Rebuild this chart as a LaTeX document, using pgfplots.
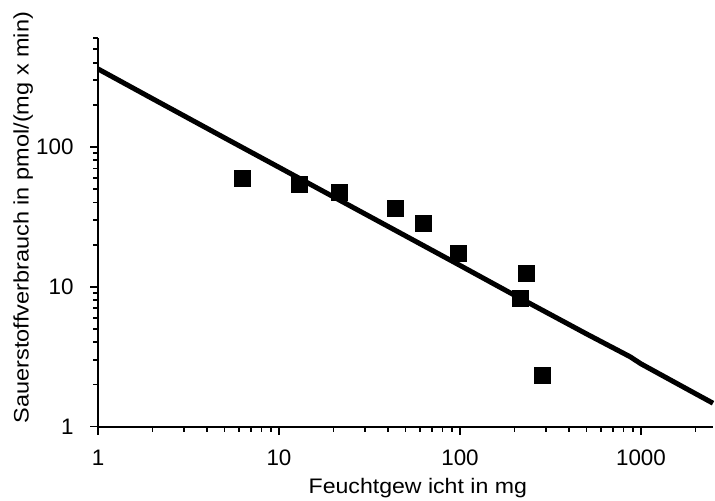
\documentclass[border=0pt]{standalone}
\usepackage{fontspec}
\setmainfont{Liberation Sans}
\newfontfamily\ylblfont[FakeStretch=1.12]{Liberation Sans}
\newfontfamily\xlblfont[FakeStretch=1.1]{Liberation Sans}
\usepackage{pgfplots}
\pgfplotsset{compat=1.18}

\begin{document}
\begin{tikzpicture}
\begin{axis}[
  scale only axis,
  width=307.5pt, height=194.3pt,
  xmode=log, ymode=log,
  xmin=1, xmax=2500, ymin=1, ymax=600,
  axis lines=left,
  axis line style={line width=1pt, -},
  tick align=outside,
  major tick length=4pt, minor tick length=2.5pt,
  every tick/.style={line width=0.9pt, black},
  xtick={1,10,100,1000}, xticklabels={1,10,100,1000},
  ytick={1,10,100}, yticklabels={1,10,100},
  minor xtick={2,3,4,5,6,7,8,9,20,30,40,50,60,70,80,90,200,300,400,500,600,700,800,900,2000},
  minor ytick={2,3,4,5,6,7,8,9,20,30,40,50,60,70,80,90,200,300,400,500,600},
  tick label style={font=\fontsize{11.2}{13}\selectfont},
  xticklabel style={inner sep=0pt, anchor=north, yshift=-7.5pt},
  yticklabel style={anchor=east, inner ysep=0pt, inner xsep=8pt},
  xlabel={Feuchtgew icht in mg},
  ylabel={Sauerstoffverbrauch in pmol/(mg x min)},
  xlabel style={font=\xlblfont\fontsize{10.5}{12.5}\selectfont,
    at={(axis description cs:0.52,-0.1724)}, anchor=base, inner sep=0pt},
  ylabel style={font=\ylblfont\fontsize{10.5}{12.5}\selectfont,
    at={(axis description cs:-0.138,0.538)}, anchor=north, inner sep=0pt},
  clip=false,
]
% Regressionsgerade
\addplot[black, line width=2.5pt, line join=round] coordinates {
(1,360.6) (2,221) (5,116) (10,71.4) (20,43.9) (50,23.1) (100,14.2)
(200,8.7) (500,4.6) (870,3.16) (1000,2.81) (2000,1.72) (2500,1.47)
};
% Messwerte
\addplot[only marks, mark=square*, mark size=4pt, black] coordinates {
(6.3,59.5) (12.9,53.9) (21.7,47.2) (43.7,36.3) (62.5,28.4)
(97.5,17.3) (233,12.5) (217,8.26) (284,2.33)
};
\coordinate (bbl) at (rel axis cs:0,0);
\coordinate (btr) at (rel axis cs:1,1);
\end{axis}
\pgfresetboundingbox
\path[use as bounding box] ([xshift=-49pt,yshift=-37.2pt]bbl) rectangle ([xshift=1pt,yshift=19pt]btr);
\end{tikzpicture}
\end{document}
